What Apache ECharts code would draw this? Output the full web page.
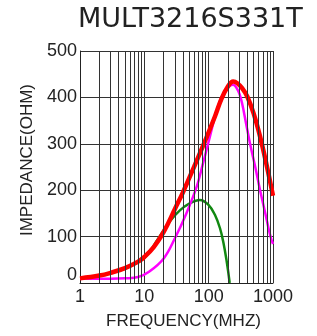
<!DOCTYPE html>
<html>
<head>
<meta charset="utf-8">
<script src="https://cdn.jsdelivr.net/npm/echarts@6/dist/echarts.min.js"></script>
<style>
html, body { margin: 0; padding: 0; background: #fff; }
#chart { width: 317px; height: 336px; }
</style>
</head>
<body>
<div id="chart"></div>
<script>
// 阻抗曲线 |Z|（红）
const zFreq = [1, 2, 3, 5, 8, 10, 14.1, 20, 30, 40, 60, 89, 126, 158, 200, 240, 282, 331, 398, 501, 631, 794, 1000];
const zVal  = [10, 16, 22, 32, 46, 56, 78, 110, 160, 196, 252, 308, 360, 397, 424, 434, 430, 420, 402, 365, 315, 255, 188];

// 电阻分量 R（品红）
const rFreq = [1, 3, 5, 8, 12, 20, 30, 45, 65, 80, 100, 125, 150, 180, 210, 240, 270, 300, 330, 380, 440, 530, 630, 760, 900, 1000];
const rVal  = [9, 9, 10, 13, 25, 53, 97, 150, 207, 253, 305, 358, 393, 414, 424, 427, 421, 408, 388, 345, 300, 250, 200, 150, 104, 84];

// 电抗分量 X（绿）
const xFreq = [1, 2, 5, 10, 16.5, 25, 36, 50, 73, 100, 125, 150, 170, 190, 205, 212];
const xVal  = [10, 16, 31, 54, 96, 133, 157, 171, 179, 168, 147, 118, 86, 48, 16, 0];

// 对数网格的次刻度线
const minorFreqs = [2, 3, 4, 5, 6, 7, 8, 9, 20, 30, 40, 50, 60, 70, 80, 90, 200, 300, 400, 500, 600, 700, 800, 900];

const yTicks = [0, 100, 200, 300, 400, 500];

const pairs = (fs, vs) => fs.map((f, i) => [f, vs[i]]);

const chart = echarts.init(document.getElementById('chart'));
const font = 'Liberation Sans, Arial, sans-serif';

// 曲线公共样式
const curve = (name, fs, vs, color, width) => ({
	name,
	type: 'line',
	data: pairs(fs, vs),
	smooth: 0.4,
	showSymbol: false,
	lineStyle: { color, width }
});

chart.setOption({
	animation: false,
	title: {
		text: 'MULT3216S331T',
		left: 73,
		top: 1,
		textStyle: { fontFamily: 'DejaVu Sans', fontSize: 27, fontWeight: 'normal', color: '#222' }
	},
	grid: { left: 80, right: 44, top: 51, bottom: 53 },
	xAxis: {
		type: 'log',
		logBase: 10,
		min: 1,
		max: 1000,
		name: 'FREQUENCY(MHZ)',
		nameLocation: 'middle',
		nameGap: 30,
		nameTextStyle: { fontFamily: font, fontSize: 17, color: '#222', padding: [0, 0, 0, 14] },
		axisLine: { show: true, lineStyle: { color: '#222', width: 1 } },
		axisTick: { show: false },
		axisLabel: { fontFamily: font, fontSize: 18, color: '#222', margin: 5, formatter: v => String(v) },
		splitLine: { show: true, lineStyle: { color: '#333', width: 1 } }
	},
	yAxis: {
		type: 'value',
		min: yTicks[0],
		max: yTicks[yTicks.length - 1],
		interval: 100,
		name: 'IMPEDANCE(OHM)',
		nameLocation: 'middle',
		nameGap: 43,
		nameTextStyle: { fontFamily: font, fontSize: 17, color: '#222', padding: [0, 0, 0, 14] },
		axisLine: { show: true, lineStyle: { color: '#222', width: 1 } },
		axisTick: { show: false },
		axisLabel: {
			fontFamily: font, fontSize: 18, color: '#222', margin: 3,
			formatter: v => v === 0 ? '{z|0}' : String(v),
			rich: { z: { fontFamily: font, fontSize: 18, color: '#222', padding: [0, 0, 16, 0] } }
		},
		splitLine: { show: true, lineStyle: { color: '#333', width: 1 } }
	},
	series: [
		{
			type: 'line',
			data: [],
			silent: true,
			markLine: {
				silent: true,
				symbol: 'none',
				label: { show: false },
				lineStyle: { color: '#333', width: 1, type: 'solid' },
				emphasis: { disabled: true },
				data: minorFreqs.map(f => ({ xAxis: f }))
			}
		},
		curve('X', xFreq, xVal, '#118811', 2.5),
		curve('R', rFreq, rVal, '#ff00ff', 2.5),
		curve('Z', zFreq, zVal, '#ff0000', 4.5)
	]
});
</script>
</body>
</html>
